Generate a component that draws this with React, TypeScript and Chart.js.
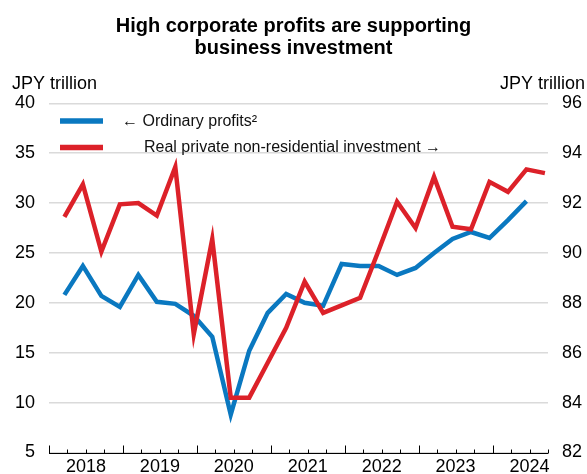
import { useEffect, useRef } from 'react';
import { Chart, registerables } from 'chart.js';

Chart.register(...registerables);

// Quarterly observations, 2018 Q1 onwards
const quarters = [
  '2018Q1', '2018Q2', '2018Q3', '2018Q4',
  '2019Q1', '2019Q2', '2019Q3', '2019Q4',
  '2020Q1', '2020Q2', '2020Q3', '2020Q4',
  '2021Q1', '2021Q2', '2021Q3', '2021Q4',
  '2022Q1', '2022Q2', '2022Q3', '2022Q4',
  '2023Q1', '2023Q2', '2023Q3', '2023Q4',
  '2024Q1', '2024Q2', '2024Q3',
];

// Ordinary profits, JPY trillion (left axis)
const ordinaryProfits = [
  20.8, 23.7, 20.7, 19.6, 22.8, 20.1, 19.9, 18.7,
  16.6, 8.8, 15.2, 19.0, 20.9, 20.0, 19.7, 23.9,
  23.7, 23.7, 22.8, 23.5, 25.0, 26.4, 27.1, 26.5,
  28.3, 30.2,
];

// Real private non-residential investment, JPY trillion (right axis)
const realInvestment = [
  91.45, 92.75, 90.05, 91.95, 92.0, 91.5, 93.45, 86.75,
  90.55, 84.2, 84.2, 85.6, 87.0, 88.85, 87.6, 87.9,
  88.2, 90.1, 92.05, 91.0, 93.05, 91.05, 90.95, 92.85,
  92.45, 93.35, 93.2,
];

const years = [2018, 2019, 2020, 2021, 2022, 2023, 2024];
const leftTicks = [5, 10, 15, 20, 25, 30, 35, 40];
const rightTicks = [82, 84, 86, 88, 90, 92, 94, 96];

const titleLines = ['High corporate profits are supporting', 'business investment'];
const unitLabel = 'JPY trillion';
const profitsLabel = '\u2190 Ordinary profits\u00b2';
const investmentLabel = 'Real private non-residential investment \u2192';

const BLUE = '#0a78c0';
const RED = '#dc2129';
const FONT = '"Liberation Sans", Arial, Helvetica, sans-serif';

// Months since January of the first year; each quarter is plotted in the
// middle of its final month.
const monthOf = (q: string) => {
  const y = parseInt(q.slice(0, 4), 10);
  const n = parseInt(q.slice(5), 10);
  return (y - years[0]) * 12 + (n - 1) * 3 + 2.5;
};
const axisEndMonth = (() => {
  const last = quarters[quarters.length - 1];
  const y = parseInt(last.slice(0, 4), 10);
  const n = parseInt(last.slice(5), 10);
  return (y - years[0]) * 12 + n * 3;
})();

const profitPoints = ordinaryProfits.map((v, i) => ({ x: monthOf(quarters[i]), y: v }));
const investmentPoints = realInvestment.map((v, i) => ({ x: monthOf(quarters[i]), y: v }));

const decorations = {
  id: 'decorations',
  afterDraw(chart: any) {
    const { ctx, chartArea } = chart;
    const xs = chart.scales.x;
    ctx.save();

    // bottom axis line with quarter and year tick marks
    ctx.strokeStyle = '#000';
    ctx.lineWidth = 1;
    const base = Math.round(chartArea.bottom) + 0.5;
    ctx.beginPath();
    ctx.moveTo(chartArea.left, base);
    ctx.lineTo(chartArea.right, base);
    for (let m = 0; m <= axisEndMonth; m += 3) {
      const px = Math.round(xs.getPixelForValue(m)) + 0.5;
      const len = m % 12 === 0 ? 8 : 4;
      ctx.moveTo(px, base);
      ctx.lineTo(px, base - len);
    }
    ctx.stroke();

    // title
    ctx.fillStyle = '#000';
    ctx.textAlign = 'center';
    ctx.textBaseline = 'alphabetic';
    ctx.font = `bold 20px ${FONT}`;
    ctx.fillText(titleLines[0], chart.width / 2, 31.5);
    ctx.fillText(titleLines[1], chart.width / 2, 54);

    // unit labels
    ctx.font = `18px ${FONT}`;
    ctx.textAlign = 'left';
    ctx.fillText(unitLabel, 12, 89);
    ctx.textAlign = 'right';
    ctx.fillText(unitLabel, 585, 89);

    // legend
    ctx.lineWidth = 5.5;
    ctx.lineCap = 'butt';
    ctx.strokeStyle = BLUE;
    ctx.beginPath();
    ctx.moveTo(60, 121);
    ctx.lineTo(103, 121);
    ctx.stroke();
    ctx.strokeStyle = RED;
    ctx.beginPath();
    ctx.moveTo(60, 147.5);
    ctx.lineTo(103, 147.5);
    ctx.stroke();
    ctx.font = `16px ${FONT}`;
    ctx.textAlign = 'left';
    ctx.fillStyle = '#111';
    ctx.fillText(profitsLabel, 122, 125.5);
    ctx.fillText(investmentLabel, 144, 152);

    ctx.restore();
  },
};

// keep the value axes from reserving extra room for their end labels
const fixVertical = (width: number) => (s: any) => {
  s.width = width;
  s.paddingTop = 0;
  s.paddingBottom = 0;
};

export default function App() {
  const canvasRef = useRef<HTMLCanvasElement | null>(null);

  useEffect(() => {
    document.body.style.margin = '0';
    const canvas = canvasRef.current;
    if (!canvas) return;

    const chart = new Chart(canvas, {
      type: 'line',
      data: {
        datasets: [
          {
            label: 'Ordinary profits',
            data: profitPoints,
            yAxisID: 'y',
            borderColor: BLUE,
            backgroundColor: BLUE,
            borderWidth: 4.5,
            pointRadius: 0,
            tension: 0,
            order: 2,
          },
          {
            label: 'Real private non-residential investment',
            data: investmentPoints,
            yAxisID: 'y1',
            borderColor: RED,
            backgroundColor: RED,
            borderWidth: 4.5,
            pointRadius: 0,
            tension: 0,
            order: 1,
          },
        ],
      },
      options: {
        responsive: false,
        animation: false,
        layout: { padding: { top: 103.3, left: 0, right: 0, bottom: 0 } },
        plugins: {
          legend: { display: false },
          title: { display: false },
          tooltip: { enabled: false },
        },
        scales: {
          x: {
            type: 'linear',
            min: 0,
            max: axisEndMonth,
            grid: { display: false, drawTicks: false },
            border: { display: false },
            afterFit: (s: any) => {
              s.height = 21.5;
              s.paddingLeft = 0;
              s.paddingRight = 0;
            },
            afterBuildTicks: (s: any) => {
              s.ticks = [];
              for (let m = 0; m <= axisEndMonth; m += 3) s.ticks.push({ value: m });
            },
            ticks: {
              autoSkip: false,
              maxRotation: 0,
              padding: 4,
              color: '#000',
              font: { family: FONT, size: 18 },
              callback: (v: any) => {
                const m = Number(v);
                if (m % 12 !== 6) return '';
                const y = years[(m - 6) / 12];
                return y === undefined ? '' : String(y);
              },
            },
          },
          y: {
            type: 'linear',
            position: 'left',
            min: leftTicks[0],
            max: leftTicks[leftTicks.length - 1],
            afterFit: fixVertical(49),
            afterBuildTicks: (s: any) => { s.ticks = leftTicks.map((v) => ({ value: v })); },
            grid: { color: '#dadada', lineWidth: 1.5, drawTicks: false },
            border: { display: false },
            ticks: {
              padding: 14,
              color: '#000',
              font: { family: FONT, size: 18 },
            },
          },
          y1: {
            type: 'linear',
            position: 'right',
            min: rightTicks[0],
            max: rightTicks[rightTicks.length - 1],
            afterFit: fixVertical(39),
            afterBuildTicks: (s: any) => { s.ticks = rightTicks.map((v) => ({ value: v })); },
            grid: { display: false, drawTicks: false },
            border: { display: false },
            ticks: {
              padding: 14,
              color: '#000',
              font: { family: FONT, size: 18 },
            },
          },
        },
      },
      plugins: [decorations],
    });

    return () => chart.destroy();
  }, []);

  return (
    <canvas
      ref={canvasRef}
      width={587}
      height={474}
      style={{ display: 'block', width: 587, height: 474 }}
    />
  );
}
